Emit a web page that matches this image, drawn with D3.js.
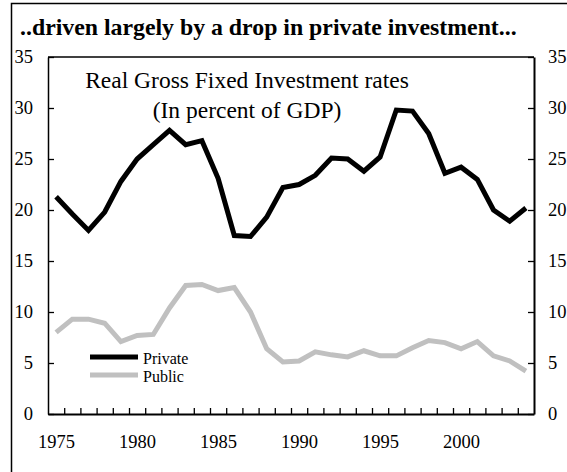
<!DOCTYPE html>
<html>
<head>
<meta charset="utf-8">
<script src="https://cdn.jsdelivr.net/npm/d3@7"></script>
<style>
  html, body { margin: 0; padding: 0; background: #fff; }
  svg { display: block; }
  text { font-family: "Liberation Serif", "Times New Roman", serif; fill: #000; }
</style>
</head>
<body>
<svg id="chart" width="567" height="472"></svg>
<script>
const years = d3.range(1975, 2005);
const privateInv = [21.3, 19.6, 18.0, 19.8, 22.8, 25.0, 26.4, 27.8, 26.4, 26.8,
                    23.1, 17.5, 17.4, 19.3, 22.2, 22.5, 23.4, 25.1, 25.0, 23.8,
                    25.2, 29.8, 29.7, 27.5, 23.6, 24.2, 23.0, 20.0, 18.9, 20.2];
const publicInv  = [8.0, 9.3, 9.3, 8.9, 7.1, 7.7, 7.8, 10.4, 12.6, 12.7,
                    12.1, 12.4, 10.0, 6.4, 5.1, 5.2, 6.1, 5.8, 5.6, 6.2,
                    5.7, 5.7, 6.5, 7.2, 7.0, 6.4, 7.1, 5.7, 5.2, 4.2];
const yTicks = [0, 5, 10, 15, 20, 25, 30, 35];
const xLabelYears = [1975, 1980, 1985, 1990, 1995, 2000];
const seriesNames = ["Private", "Public"];
const seriesColors = ["#000000", "#c0c0c0"];
const titleText = "..driven largely by a drop in private investment...";
const innerTitle = ["Real Gross Fixed Investment rates", "(In percent of GDP)"];

const svg = d3.select("#chart");
const L = 48, R = 534, T = 57, B = 414;

const x = d3.scaleLinear().domain([1974.5, 2004.5]).range([L, R]);
const y = d3.scaleLinear().domain([0, 35]).range([B, T]);

// outer frame (extends beyond the right/bottom edges)
svg.append("rect").attr("x", 11.5).attr("y", 3.5).attr("width", 700).attr("height", 600)
  .attr("fill", "none").attr("stroke", "#000").attr("stroke-width", 1.5);

// title
svg.append("text").attr("x", 20).attr("y", 35)
  .style("font-size", "23.8px").style("font-weight", "bold").text(titleText);

// plot top border
svg.append("line").attr("x1", L).attr("x2", R).attr("y1", T).attr("y2", T)
  .attr("stroke", "#000").attr("stroke-width", 1.5);

// left axis
const gl = svg.append("g").attr("transform", `translate(${L},0)`)
  .call(d3.axisLeft(y).tickValues(yTicks).tickSizeInner(-6).tickSizeOuter(0).tickPadding(15));
// right axis
const gr = svg.append("g").attr("transform", `translate(${R},0)`)
  .call(d3.axisRight(y).tickValues(yTicks).tickSizeInner(-6).tickSizeOuter(0).tickPadding(14));
// bottom axis ticks (between years)
const gb = svg.append("g").attr("transform", `translate(0,${B})`)
  .call(d3.axisBottom(x).tickValues(d3.range(1975.5, 2004.5, 1)).tickSizeInner(-6).tickSizeOuter(0).tickFormat(""));
// bottom labels
const gbl = svg.append("g").attr("transform", `translate(0,${B})`)
  .call(d3.axisBottom(x).tickValues(xLabelYears).tickSize(0).tickPadding(21).tickFormat(d3.format("d")));
gbl.select(".domain").remove();

[gl, gr, gb, gbl].forEach(g => {
  g.selectAll("text").style("font-family", "Liberation Serif, Times New Roman, serif")
    .style("font-size", "18.5px").attr("fill", "#000");
  g.selectAll("line").attr("stroke", "#000").attr("stroke-width", 1.3);
});
gl.select(".domain").attr("stroke", "#000").attr("stroke-width", 1.5);
gr.select(".domain").attr("stroke", "#000").attr("stroke-width", 2);
gb.select(".domain").attr("stroke", "#000").attr("stroke-width", 2.2);

// lines
const line = d3.line().x((d, i) => x(years[i])).y(d => y(d));
[publicInv, privateInv].forEach((s, k) => {
  const idx = k === 0 ? 1 : 0;
  svg.append("path").datum(s).attr("d", line)
    .attr("fill", "none").attr("stroke", seriesColors[idx]).attr("stroke-width", 5)
    .attr("stroke-linejoin", "miter");
});

// inner title
innerTitle.forEach((t, i) => {
  svg.append("text").attr("x", 247).attr("y", 88 + i * 30).attr("text-anchor", "middle")
    .style("font-size", "23.5px").text(t);
});

// legend
seriesNames.forEach((n, i) => {
  const ly = 357 + i * 18;
  svg.append("line").attr("x1", 90).attr("x2", 138).attr("y1", ly).attr("y2", ly)
    .attr("stroke", seriesColors[i]).attr("stroke-width", 5);
  svg.append("text").attr("x", 143).attr("y", ly + 6.5).style("font-size", "16px").text(n);
});
</script>
</body>
</html>
